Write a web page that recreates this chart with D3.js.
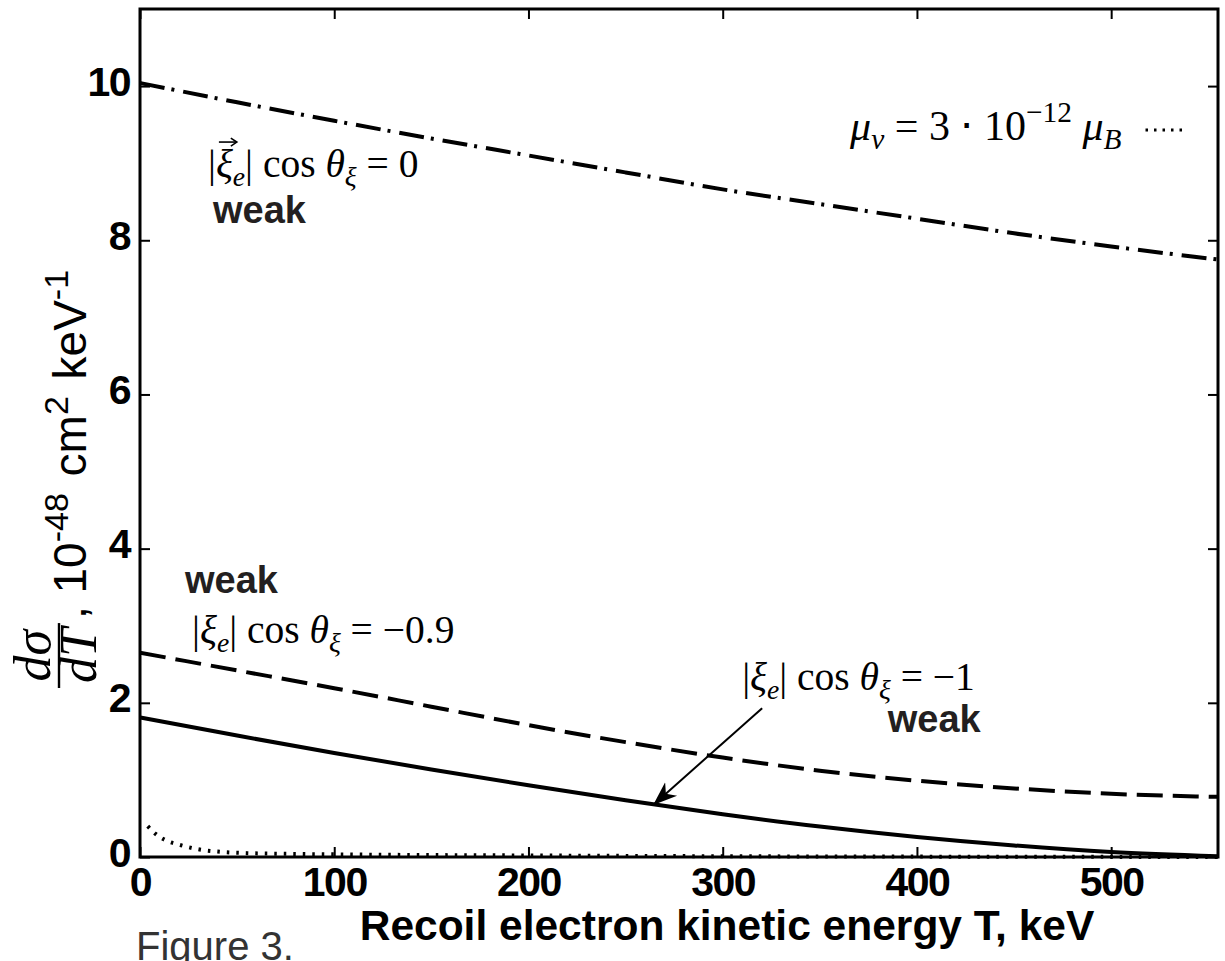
<!DOCTYPE html>
<html><head><meta charset="utf-8">
<script src="https://cdn.jsdelivr.net/npm/d3@7"></script>
<style>body{margin:0;background:#fff} svg{display:block}</style>
</head><body>
<svg id="c" width="1225" height="961"></svg>
<script>
// ---- data ----
const energyT   = [0,50,100,150,200,250,300,350,400,450,500,555];
const weakXi0   = [10.04,9.79,9.55,9.32,9.10,8.88,8.66,8.47,8.28,8.09,7.92,7.75];
const weakXi09  = [2.65,2.42,2.19,1.95,1.71,1.49,1.29,1.12,0.99,0.89,0.82,0.78];
const weakXi1   = [1.81,1.575,1.35,1.135,0.93,0.735,0.555,0.395,0.26,0.15,0.065,0.01];
const magT      = [4,8,13,20,30,40,55,80,120,200,300,400,555];
const magMoment = [0.40,0.30,0.22,0.16,0.10,0.07,0.05,0.04,0.03,0.02,0.01,0.005,0];
const xTicks = [0,100,200,300,400,500];
const yTicks = [0,2,4,6,8,10];
const xTitle = "Recoil electron kinetic energy T, keV";
const figCaption = "Figure 3.";

// ---- layout ----
const svg = d3.select("#c");
const L = 140, R = 1218, T0 = 9, B = 857;
const x = d3.scaleLinear([0,555],[L,R]);
const y = d3.scaleLinear([0,11],[B,T0]);
const SANS = "'Liberation Sans', Arial, Helvetica, sans-serif";
const SERIF = "'Liberation Serif', 'Times New Roman', serif";

svg.append("defs").append("clipPath").attr("id","plot")
  .append("rect").attr("x",L).attr("y",T0).attr("width",R-L).attr("height",B-T0+4);

// axes (inward ticks, mirrored)
function styleAxis(g){
  g.select(".domain").remove();
  g.selectAll(".tick line").attr("stroke","#000").attr("stroke-width",2);
  g.selectAll(".tick text").attr("fill","#000").attr("font-family",SANS)
    .attr("font-weight","bold").attr("font-size",41).attr("letter-spacing","-1.5px");
}
svg.append("g").attr("transform",`translate(0,${B})`)
  .call(d3.axisBottom(x).tickValues(xTicks).tickSize(-10).tickPadding(10).tickFormat(d3.format("d")))
  .call(styleAxis);
svg.append("g").attr("transform",`translate(0,${T0})`)
  .call(d3.axisTop(x).tickValues(xTicks).tickSize(-10).tickFormat(""))
  .call(styleAxis);
const ya = svg.append("g").attr("transform",`translate(${L},0)`)
  .call(d3.axisLeft(y).tickValues(yTicks).tickSize(-10).tickPadding(10).tickFormat(d3.format("d")))
  .call(styleAxis);
ya.selectAll(".tick text").attr("dy","0.22em");
svg.append("g").attr("transform",`translate(${R},0)`)
  .call(d3.axisRight(y).tickValues(yTicks).tickSize(-10).tickFormat(""))
  .call(styleAxis);

// frame
svg.append("rect").attr("x",L).attr("y",T0).attr("width",R-L).attr("height",B-T0)
  .attr("fill","none").attr("stroke","#000").attr("stroke-width",3);

// curves
const line = d3.line().x(d=>x(d[0])).y(d=>y(d[1])).curve(d3.curveMonotoneX);
const plot = svg.append("g").attr("clip-path","url(#plot)");
const series = [
  {t:energyT, v:weakXi0,  dash:"25,7,3,9"},
  {t:energyT, v:weakXi09, dash:"26,10"},
  {t:energyT, v:weakXi1,  dash:null},
  {t:magT,    v:magMoment, dash:"2.5,7"}
];
series.forEach(s=>{
  plot.append("path").attr("d", line(s.t.map((t,i)=>[t,s.v[i]])))
    .attr("fill","none").attr("stroke","#000").attr("stroke-width",4)
    .attr("stroke-dasharray", s.dash);
});

// ---- math text helper ----
function mathText(px, py, parts, size){
  const t = svg.append("text").attr("x",px).attr("y",py)
    .attr("font-family",SERIF).attr("font-size",size).attr("fill","#000");
  let shift = 0;
  parts.forEach(p=>{
    const target = p.sub ? Math.round(size*0.22) : p.sup ? -Math.round(size*0.42) : 0;
    t.append("tspan").text(p.t)
      .attr("font-style", p.i ? "italic" : "normal")
      .attr("font-size", (p.sub||p.sup) ? size*0.7 : size)
      .attr("dy", target - shift);
    shift = target;
  });
  return t;
}
const eqParts = (rhs)=>[
  {t:"|"},{t:"ξ",i:true},{t:"e",i:true,sub:true},{t:"| cos "},{t:"θ",i:true},
  {t:"ξ",i:true,sub:true},{t:" = "+rhs}
];

// annotations
const EQ = 39.5;
const eq0 = mathText(x(35), y(8.82), eqParts("0"), EQ);
// vector arrow over xi
{
  const n = eq0.node();
  const s = n.getStartPositionOfChar(1), e = n.getEndPositionOfChar(1);
  const ay = s.y - 35, x1 = s.x + 3, x2 = e.x + 3;
  svg.append("path").attr("d",`M${x1},${ay}H${x2}`).attr("stroke","#000").attr("stroke-width",1.6);
  svg.append("path").attr("d",`M${x2-5},${ay-4}L${x2+1},${ay}L${x2-5},${ay+4}`)
    .attr("fill","none").attr("stroke","#000").attr("stroke-width",1.6);
}
function weak(px,py){
  svg.append("text").attr("x",px).attr("y",py).text("weak")
    .attr("font-family",SANS).attr("font-weight","bold").attr("font-size",38).attr("fill","#231f20");
}
weak(x(37.6), y(8.22));
weak(x(23.2), y(3.42));
mathText(x(26.8), y(2.78), eqParts("−0.9"), EQ);
mathText(x(310), y(2.17), eqParts("−1"), EQ);
weak(x(385), y(1.62));

// mu legend
const mu = mathText(x(365.6), y(9.30), [
  {t:"μ",i:true},{t:"ν",i:true,sub:true},{t:" =  3 ⋅ 10"},{t:"−12",sup:true},
  {t:" μ",i:true},{t:"B",i:true,sub:true}
], 42);
{
  const bb = mu.node().getBBox();
  const xs = bb.x + bb.width + 24;
  svg.append("path").attr("d",`M${xs},${y(9.43)}H${xs+40}`)
    .attr("stroke","#000").attr("stroke-width",3).attr("stroke-dasharray","2.5,6");
}

// arrow
svg.append("defs").append("marker").attr("id","ah").attr("markerUnits","userSpaceOnUse")
  .attr("viewBox","-24 -10 26 20").attr("refX",0).attr("refY",0)
  .attr("markerWidth",26).attr("markerHeight",20).attr("orient","auto")
  .append("path").attr("d","M0,0L-24,-9L-17,0L-24,9Z").attr("fill","#000");
svg.append("line").attr("x1",x(320.3)).attr("y1",y(1.93)).attr("x2",x(264.2)).attr("y2",y(0.675))
  .attr("stroke","#000").attr("stroke-width",2).attr("marker-end","url(#ah)");

// x title
svg.append("text").attr("x",727).attr("y",940).attr("text-anchor","middle").text(xTitle)
  .attr("font-family",SANS).attr("font-weight","bold").attr("font-size",42.5).attr("fill","#000");
// caption
svg.append("text").attr("x",136).attr("y",960).text(figCaption)
  .attr("font-family",SANS).attr("font-size",40).attr("fill","#333");

// y title: fraction + units, rotated
{
  const base = 690;
  const g = svg.append("g").attr("transform",`translate(0,${base}) rotate(-90)`);
  const FS = 52;
  const num = g.append("text").attr("y",50).attr("text-anchor","middle")
    .attr("font-family",SERIF).attr("font-style","italic").attr("font-size",FS).text("dσ");
  const den = g.append("text").attr("y",96).attr("text-anchor","middle")
    .attr("font-family",SERIF).attr("font-style","italic").attr("font-size",FS).text("dT");
  const w = Math.max(num.node().getComputedTextLength(), den.node().getComputedTextLength()) + 10;
  const cx = w/2 + 2;
  num.attr("x",cx); den.attr("x",cx);
  g.append("line").attr("x1",cx-w/2).attr("x2",cx+w/2).attr("y1",59).attr("y2",59)
    .attr("stroke","#000").attr("stroke-width",2.4);
  const u0 = cx+w/2+4;
  const t = g.append("text").attr("x",u0).attr("y",86).attr("font-family",SANS)
    .attr("font-size",46).attr("fill","#000");
  t.append("tspan").text(", 10");
  t.append("tspan").text("-48").attr("font-size",34).attr("dy",-18);
  t.append("tspan").text(" cm").attr("dy",18).attr("dx",4);
  t.append("tspan").text("2").attr("font-size",34).attr("dy",-18);
  t.append("tspan").text(" keV").attr("dy",18).attr("dx",4);
  t.append("tspan").text("-1").attr("font-size",34).attr("dy",-18);
}
</script>
</body></html>
